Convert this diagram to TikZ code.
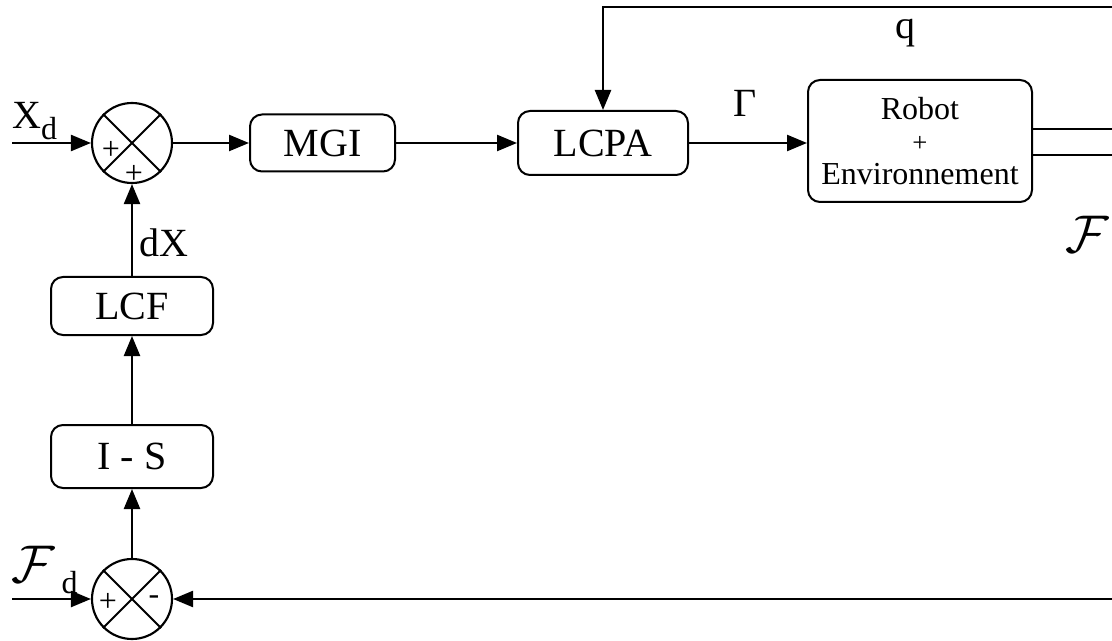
\documentclass[tikz,border=0pt]{standalone}
\usepackage{fontspec}
\setmainfont{Liberation Serif}
\usetikzlibrary{arrows.meta}
\newcommand{\scrF}{\scalebox{1.6}{$\mathcal{F}$}}
\begin{document}
\begin{tikzpicture}[x=0.75pt,y=-0.75pt,
  line width=1.8pt,
  arr/.style={-{Triangle[length=15pt,width=12pt]}},
  blk/.style={draw,rounded corners=9pt,line width=1.5pt,inner sep=0pt,
    font=\fontsize{30}{32}\selectfont},
  sumj/.style={draw,circle,line width=1.6pt,minimum size=60pt,inner sep=0pt},
  lbl/.style={font=\fontsize{30}{32}\selectfont,inner sep=0pt},
  sgn/.style={font=\fontsize{24}{26}\selectfont,inner sep=0pt}]
\useasboundingbox (0,0) rectangle (1112,641);

% summing junctions
\node[sumj] (s1) at (132,143) {};
\draw[line width=1.5pt] (s1.north west) -- (s1.south east) (s1.north east) -- (s1.south west);
\node[sumj] (s2) at (132,599) {};
\draw[line width=1.5pt] (s2.north west) -- (s2.south east) (s2.north east) -- (s2.south west);
\node[sgn] (p1) at (111,150) {+};
\node[sgn] (p2) at (134,174) {+};
\node[sgn] (p3) at (108,602) {+};
\node[sgn] (m1) at (154,600) {-};

% blocks
\node[blk,minimum width=108.75pt,minimum height=42.75pt] (mgi) at (322.5,143) {MGI};
\node[blk,minimum width=127.5pt,minimum height=48pt] (lcpa) at (603,143) {LCPA};
\node[blk,minimum width=168pt,minimum height=91.5pt,align=center,
  font=\fontsize{24}{27}\selectfont] (rob) at (920,141)
  {Robot\\[-3pt]{\fontsize{20}{20}\selectfont +}\\[-2pt]Environnement};
\node[blk,minimum width=121.5pt,minimum height=43.5pt] (lcf) at (132,306) {LCF};
\node[blk,minimum width=121.5pt,minimum height=47.25pt] (is) at (132,456.5) {I - S};

% free ends
\coordinate (xin) at (12,143);
\coordinate (fin) at (12,599);
\coordinate (qr) at (1112,7);
\coordinate (fr) at (1112,599);
\coordinate (o1) at (1112,129);
\coordinate (o2) at (1112,155);

% forward path
\draw[arr] (xin) -- (s1.west);
\draw[arr] (s1.east) -- (mgi.west);
\draw[arr] (mgi.east) -- (lcpa.west);
\draw[arr] (lcpa.east) -- (lcpa.east -| rob.west);
\draw (o1 -| rob.east) -- (o1);
\draw (o2 -| rob.east) -- (o2);

% feedback paths
\draw[arr] (qr) -| (lcpa.north);
\draw[arr] (fr) -- (s2.east);
\draw[arr] (fin) -- (s2.west);
\draw[arr] (s2.north) -- (is.south);
\draw[arr] (is.north) -- (lcf.south);
\draw[arr] (lcf.north) -- (s1.south);

% signal labels
\node[lbl] (lxd) at (35,121) {X\textsubscript{\fontsize{24}{24}\selectfont d}};
\node[lbl] (lfd) at (45,570) {\scrF\,\textsubscript{\fontsize{24}{24}\selectfont d}};
\node[lbl] (ldx) at (164,243) {dX};
\node[lbl] (lg) at (745,103) {Γ};
\node[lbl] (lq) at (905,33) {q};
\node[lbl] (lf) at (1087,234) {\scrF};
\end{tikzpicture}
\end{document}
